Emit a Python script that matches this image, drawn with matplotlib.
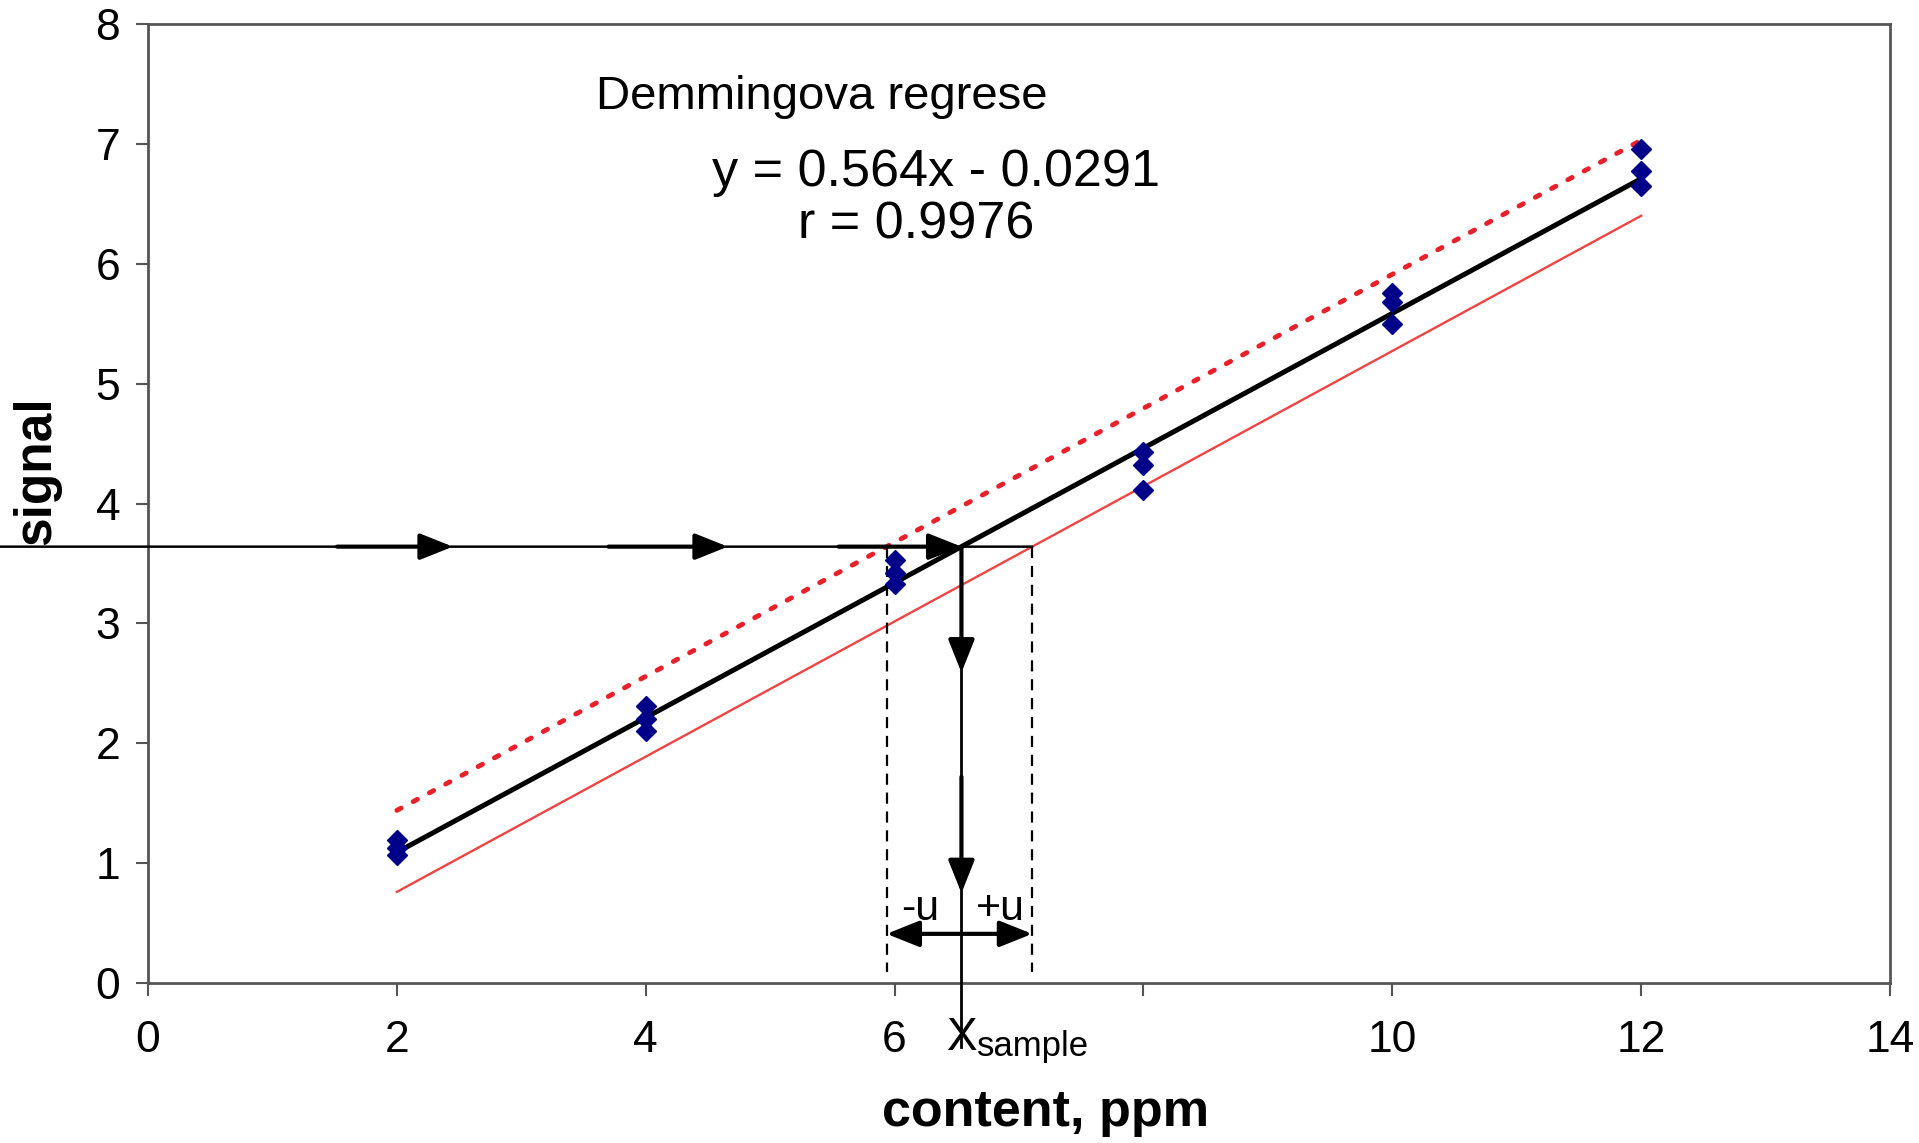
import numpy as np
import matplotlib.pyplot as plt

plt.rcParams['font.family'] = ['Liberation Sans', 'DejaVu Sans']

# calibration data (three replicates per standard)
content = [2, 4, 6, 8, 10, 12]
signal_rep1 = [1.19, 2.31, 3.53, 4.43, 5.76, 6.96]
signal_rep2 = [1.13, 2.20, 3.42, 4.32, 5.68, 6.77]
signal_rep3 = [1.07, 2.10, 3.33, 4.11, 5.50, 6.65]

# regression line and confidence band ends
fit_x = [2, 12]
fit_y = [1.09, 6.71]
upper_y = [1.44, 7.03]
lower_y = [0.76, 6.40]

sample_signal = 3.64

xticks = [0, 2, 4, 6, 8, 10, 12, 14]
xticklabels = ['0', '2', '4', '6', '', '10', '12', '14']
yticks = [0, 1, 2, 3, 4, 5, 6, 7, 8]

x_s = np.interp(sample_signal, fit_y, fit_x)
x_lo = np.interp(sample_signal, upper_y, fit_x)
x_hi = np.interp(sample_signal, lower_y, fit_x)

fig = plt.figure(figsize=(19.19, 11.43), dpi=100)
ax = fig.add_axes([148 / 1919, 1 - 983 / 1143, 1742 / 1919, 959 / 1143])

ax.plot(fit_x, upper_y, color='#e8202a', lw=3.5, linestyle=(0, (1, 2.8)),
        dash_capstyle='round', zorder=3)
ax.plot(fit_x, lower_y, color='#ee4444', lw=1.7, zorder=3)
ax.plot(fit_x, fit_y, color='black', lw=3.6, zorder=4)

for ys in (signal_rep1, signal_rep2, signal_rep3):
    ax.plot(content, ys, 'D', color='#000088', markersize=10, zorder=5)

# horizontal thin line from the figure edge to the upper bound
ax.annotate('', xy=(x_hi, sample_signal), xycoords='data',
            xytext=(0, sample_signal), textcoords=('figure fraction', 'data'),
            arrowprops=dict(arrowstyle='-', lw=1.8, color='black',
                            shrinkA=0, shrinkB=0))

head = '-|>,head_length=0.5,head_width=0.2'
for x0, x1 in [(1.52, 2.45), (3.70, 4.66), (5.55, x_s)]:
    ax.annotate('', xy=(x1, sample_signal), xytext=(x0, sample_signal),
                arrowprops=dict(arrowstyle=head, lw=3, color='black',
                                mutation_scale=40, shrinkA=0, shrinkB=0))

# vertical line down to the axis
ax.plot([x_s, x_s], [sample_signal, -0.53], color='black', lw=2,
        clip_on=False, zorder=4)
for y0, y1 in [(sample_signal, 2.59), (1.72, 0.75)]:
    ax.annotate('', xy=(x_s, y1), xytext=(x_s, y0),
                arrowprops=dict(arrowstyle=head, lw=3, color='black',
                                mutation_scale=40, shrinkA=0, shrinkB=0))

# uncertainty bounds
for xb in (x_lo, x_hi):
    ax.plot([xb, xb], [sample_signal, 0.09], color='black', lw=1.6,
            linestyle=(0, (5, 3.5)), zorder=3)
ax.annotate('', xy=(x_hi, 0.41), xytext=(x_lo, 0.41),
            arrowprops=dict(arrowstyle='<|-|>,head_length=0.5,head_width=0.2',
                            lw=3, color='black', mutation_scale=40,
                            shrinkA=0, shrinkB=0))
ax.text(6.05, 0.525, '-u', fontsize=31, ha='left', va='baseline')
ax.text(6.65, 0.525, '+u', fontsize=31, ha='left', va='baseline')

ax.text(6.42, -0.56, 'X', fontsize=33, ha='left', va='baseline', clip_on=False)
ax.text(6.66, -0.61, 'sample', fontsize=25, ha='left', va='baseline', clip_on=False)

ax.text(3.60, 7.29, 'Demmingova regrese', fontsize=34, ha='left', va='baseline')
ax.text(6.33, 6.65, 'y = 0.564x - 0.0291', fontsize=37.5, ha='center', va='baseline')
ax.text(6.17, 6.21, 'r = 0.9976', fontsize=37.5, ha='center', va='baseline')

ax.set_xlim(0, 14)
ax.set_ylim(0, 8)
ax.set_xticks(xticks)
ax.set_xticklabels(xticklabels, fontsize=32)
ax.set_yticks(yticks)
ax.set_yticklabels([str(v) for v in yticks], fontsize=32)
ax.tick_params(axis='both', direction='out', length=9, width=1.5,
               color='#555555')
ax.tick_params(axis='x', pad=18)
ax.tick_params(axis='y', pad=11)
for sp in ax.spines.values():
    sp.set_color('#555555')
    sp.set_linewidth(2)

fig.text(1046 / 1919, 1 - 1126 / 1143, 'content, ppm', fontsize=37.5,
         fontweight='bold', ha='center', va='baseline')
fig.text(37 / 1919, 1 - 471 / 1143, 'signal', fontsize=37, fontweight='bold',
         rotation=90, ha='center', va='center')

fig.savefig('out.png', dpi=100)
